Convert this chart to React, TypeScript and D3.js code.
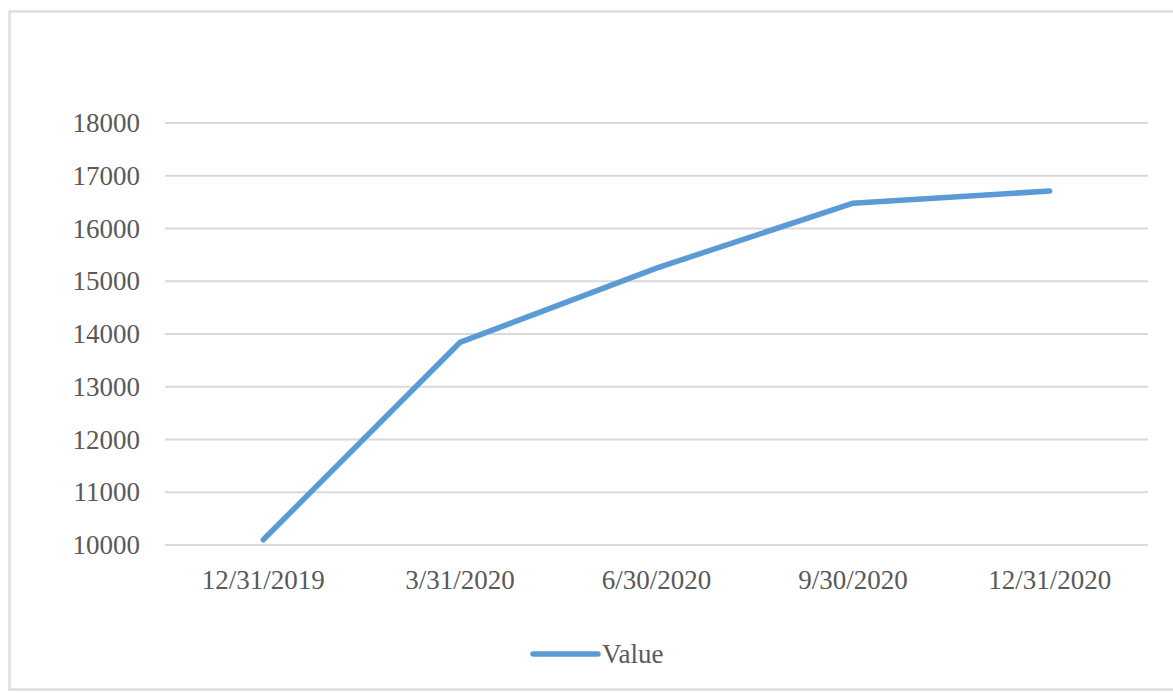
import React, { useEffect, useRef } from "react";
import * as d3 from "d3";

const categories = ["12/31/2019", "3/31/2020", "6/30/2020", "9/30/2020", "12/31/2020"];
const values = [10100, 13840, 15250, 16480, 16710];
const yTicks = [10000, 11000, 12000, 13000, 14000, 15000, 16000, 17000, 18000];
const seriesName = "Value";

const W = 1173;
const H = 693;
const LINE_COLOR = "#5b9bd5";
const TEXT_COLOR = "#595959";
const GRID_COLOR = "#d9d9d9";
const FONT = "'Liberation Serif', 'Times New Roman', serif";

export default function App() {
  const ref = useRef<SVGSVGElement | null>(null);

  useEffect(() => {
    const svg = d3.select(ref.current);
    svg.selectAll("*").remove();

    svg.append("rect").attr("width", W).attr("height", H).attr("fill", "#ffffff");

    // chart frame
    svg
      .append("rect")
      .attr("x", 9.5)
      .attr("y", 11.5)
      .attr("width", 1180)
      .attr("height", 678)
      .attr("fill", "none")
      .attr("stroke", "#dedede")
      .attr("stroke-width", 2.5);

    const left = 165;
    const right = 1148;
    const top = 123;
    const bottom = 545;

    const x = d3.scalePoint<string>().domain(categories).range([left, right]).padding(0.5);
    const y = d3.scaleLinear().domain([10000, 18000]).range([bottom, top]);

    // gridlines
    svg
      .append("g")
      .selectAll("line")
      .data(yTicks)
      .join("line")
      .attr("x1", left)
      .attr("x2", right)
      .attr("y1", (d) => y(d))
      .attr("y2", (d) => y(d))
      .attr("stroke", GRID_COLOR)
      .attr("stroke-width", 2);

    // y tick labels
    svg
      .append("g")
      .selectAll("text")
      .data(yTicks)
      .join("text")
      .attr("x", 140)
      .attr("y", (d) => y(d))
      .attr("dy", "0.34em")
      .attr("text-anchor", "end")
      .attr("font-family", FONT)
      .attr("font-size", 27)
      .attr("fill", TEXT_COLOR)
      .text((d) => String(d));

    // x tick labels
    svg
      .append("g")
      .selectAll("text")
      .data(categories)
      .join("text")
      .attr("x", (d) => x(d) as number)
      .attr("y", 589)
      .attr("text-anchor", "middle")
      .attr("font-family", FONT)
      .attr("font-size", 27)
      .attr("fill", TEXT_COLOR)
      .text((d) => d);

    // series line
    const line = d3
      .line<number>()
      .x((_, i) => x(categories[i]) as number)
      .y((d) => y(d));

    svg
      .append("path")
      .datum(values)
      .attr("d", line)
      .attr("fill", "none")
      .attr("stroke", LINE_COLOR)
      .attr("stroke-width", 5.5)
      .attr("stroke-linejoin", "round")
      .attr("stroke-linecap", "round");

    // legend
    const lg = svg.append("g");
    lg.append("line")
      .attr("x1", 533)
      .attr("x2", 598)
      .attr("y1", 654)
      .attr("y2", 654)
      .attr("stroke", LINE_COLOR)
      .attr("stroke-width", 5.5)
      .attr("stroke-linecap", "round");
    lg.append("text")
      .attr("x", 602)
      .attr("y", 663)
      .attr("font-family", FONT)
      .attr("font-size", 27)
      .attr("fill", TEXT_COLOR)
      .text(seriesName);
  }, []);

  return (
    <svg
      ref={ref}
      width={W}
      height={H}
      style={{ position: "absolute", left: 0, top: 0, display: "block" }}
    />
  );
}
